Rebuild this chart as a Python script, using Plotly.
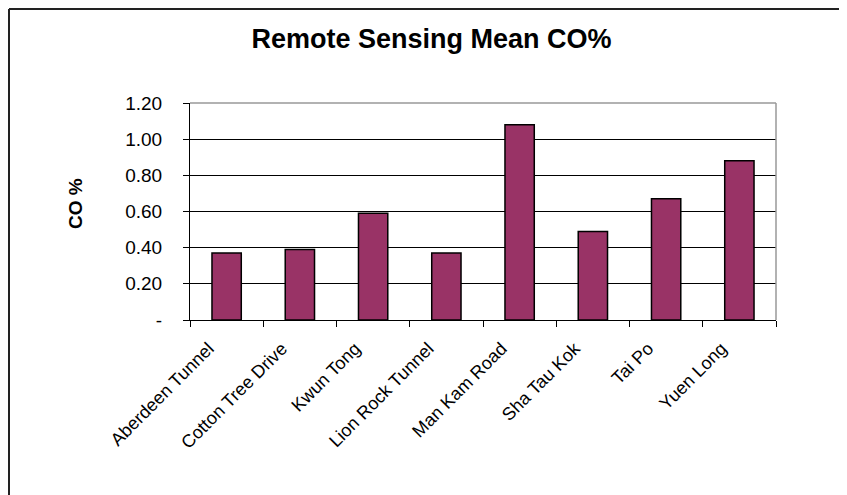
"""
Remote Sensing Mean CO% - graphique en barres.
"""

import plotly.graph_objects as go

sites = [
    "Aberdeen Tunnel",
    "Cotton Tree Drive",
    "Kwun Tong",
    "Lion Rock Tunnel",
    "Man Kam Road",
    "Sha Tau Kok",
    "Tai Po",
    "Yuen Long",
]
mean_co = [0.37, 0.39, 0.59, 0.37, 1.08, 0.49, 0.67, 0.88]

y_tickvals = [0, 0.2, 0.4, 0.6, 0.8, 1.0, 1.2]
y_ticktext = ["-", "0.20", "0.40", "0.60", "0.80", "1.00", "1.20"]

# la page ajoute une marge de 8 px autour de la figure
OFF = 8
W, H = 847 - OFF, 495 - OFF
L, R, T, B = 190 - OFF, 71, 103 - OFF, 175
pw, ph = W - L - R, H - T - B


def px_x(x):
    return (x - OFF - L) / pw


def px_y(y):
    return 1 - (y - OFF - T) / ph


fig = go.Figure()

fig.add_trace(
    go.Bar(
        x=sites,
        y=mean_co,
        marker=dict(color="#993366", line=dict(color="black", width=1.5)),
    )
)

font = "Liberation Sans, Arial, sans-serif"

fig.update_layout(
    width=W,
    height=H,
    margin=dict(l=L, r=R, t=T, b=B),
    paper_bgcolor="white",
    plot_bgcolor="white",
    bargap=0.6,
    showlegend=False,
    font=dict(family=font, size=18, color="black"),
    title=dict(
        text="<b>Remote Sensing Mean CO%</b>",
        font=dict(size=27, color="black"),
        x=(431.5 - OFF) / W,
        xanchor="center",
        xref="container",
        y=1 - (39 - OFF) / H,
        yanchor="middle",
        yref="container",
    ),
    xaxis=dict(
        showline=True,
        linecolor="black",
        linewidth=1,
        ticks="outside",
        ticklen=6,
        tickcolor="black",
        tickson="boundaries",
        tickangle=-45,
        ticklabelstandoff=10,
        ticklabelshift=-18,
        tickfont=dict(size=18),
        showgrid=False,
    ),
    yaxis=dict(
        range=[0, 1.2],
        tickvals=y_tickvals,
        ticktext=y_ticktext,
        tickfont=dict(size=19),
        showline=True,
        linecolor="black",
        linewidth=1,
        ticks="outside",
        ticklen=6,
        tickcolor="black",
        ticklabelstandoff=17,
        showgrid=True,
        gridcolor="black",
        gridwidth=1,
        zeroline=False,
    ),
    annotations=[
        dict(
            text="<b>CO %</b>",
            x=px_x(75),
            y=px_y(204),
            xref="paper",
            yref="paper",
            xanchor="center",
            yanchor="middle",
            textangle=-90,
            showarrow=False,
            font=dict(size=19),
        )
    ],
    shapes=[
        # bords gris du cadre du graphe
        dict(type="line", xref="paper", yref="paper", x0=0, x1=1, y0=1, y1=1,
             line=dict(color="#999999", width=1.5)),
        dict(type="line", xref="paper", yref="paper", x0=1, x1=1, y0=0, y1=1,
             line=dict(color="#999999", width=1.5)),
        # cadre extérieur (au bord de la figure)
        dict(type="line", xref="paper", yref="paper", x0=px_x(OFF + 1), x1=px_x(OFF + 1),
             y0=px_y(OFF + 1), y1=px_y(500), line=dict(color="#222222", width=2)),
        dict(type="line", xref="paper", yref="paper", x0=px_x(OFF + 1), x1=px_x(850),
             y0=px_y(OFF + 1), y1=px_y(OFF + 1), line=dict(color="#222222", width=2)),
    ],
)

fig.write_html("out.html")
